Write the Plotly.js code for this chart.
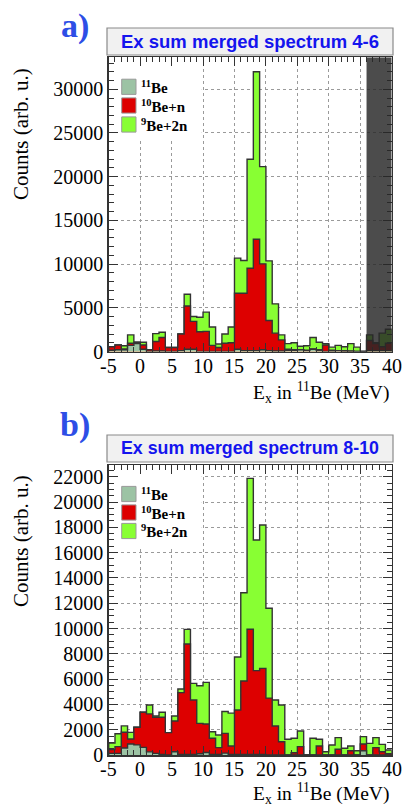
<!DOCTYPE html>
<html>
<head>
<meta charset="utf-8">
<script src="https://cdn.plot.ly/plotly-3.0.1.min.js"></script>
<style>html,body{margin:0;padding:0;background:#fff;}#chart{width:406px;height:807px;}</style>
</head>
<body>
<div id="chart"></div>
<script>
// ---- data ----
const binLeft = [-5,-4,-3,-2,-1,0,1,2,3,4,5,6,7,8,9,10,11,12,13,14,15,16,17,18,19,20,21,22,23,24,25,26,27,28,29,30,31,32,33,34,35,36,37,38,39];
const binRightEnd = 40;
const seriesNames = ['<sup>11</sup>Be', '<sup>10</sup>Be+n', '<sup>9</sup>Be+2n'];
const panelTitles = ['Ex sum merged spectrum 4-6', 'Ex sum merged spectrum 8-10'];
const panelLabels = ['a)', 'b)'];

const a_be11  = [150,200,200,700,900,250,0,50,50,0,0,100,250,250,0,0,0,0,0,0,250,100,100,100,200,100,50,50,150,150,200,100,250,100,0,50,100,0,0,0,0,100,100,100,100];
const a_be10n = [400,550,100,250,100,500,200,1100,1550,450,450,1900,4950,3200,2260,2300,700,450,950,1000,6420,6570,9430,12750,9830,3450,2050,1280,100,50,0,50,50,100,750,100,0,100,50,0,0,1150,800,450,850];
const a_be9nn = [0,0,350,950,100,300,0,900,600,0,0,0,1350,550,1660,2200,2100,400,1050,1800,4010,3740,12460,19160,11120,6820,3350,570,650,800,400,500,1300,850,150,350,600,450,850,500,0,650,100,1550,1600];

const b_be11  = [130,130,550,870,800,600,250,130,50,0,260,50,50,50,100,200,50,50,150,50,50,50,50,50,50,0,0,0,0,0,0,0,0,0,0,0,0,0,0,0,340,0,0,0,0];
const b_be10n = [300,530,1250,400,1390,2780,3000,2850,2930,1765,2430,4880,8720,4300,2400,2250,1270,530,1560,660,3510,5800,9890,6620,6800,4500,2290,1050,0,180,660,0,0,710,0,0,450,0,340,0,530,0,580,260,100];
const b_be9nn = [520,1020,500,520,0,0,700,100,400,0,390,290,1160,1310,2980,3290,520,1000,1730,2600,4190,6980,11930,10330,11330,7100,2060,2900,1240,1140,1240,0,1320,530,260,790,920,530,370,340,580,920,790,580,300];

const xTickVals = [-5,0,5,10,15,20,25,30,35,40];
const xTickText = ['-5','0','5','10','15','20','25','30','35','40'];
const aYTickVals = [0,5000,10000,15000,20000,25000,30000];
const aYTickText = ['0','5000','10000','15000','20000','25000','30000'];
const bYTickVals = [0,2000,4000,6000,8000,10000,12000,14000,16000,18000,20000,22000];
const bYTickText = ['0','2000','4000','6000','8000','10000','12000','14000','16000','18000','20000','22000'];
const cutRegion = [36, 40];

// ---- styling ----
const W = 406, H = 807;
const PX = v => v / W, PY = v => 1 - v / H;
const col11 = '#9cc3a4', colRed = '#dd0000', colGreen = '#88ff33', outline = '#333333';
const serif = 'Liberation Serif, Times New Roman, serif';
const sans = 'Liberation Sans, Arial, sans-serif';

function stepX() { return [binLeft[0]].concat(binLeft, [binRightEnd, binRightEnd]); }
function stepY(v) { return [0].concat(v, [v[v.length-1], 0]); }
function cum(...arrs) { return arrs[0].map((_, i) => arrs.reduce((s, a) => s + a[i], 0)); }

function layerTrace(vals, color, xa, ya) {
  return { type:'scatter', mode:'lines', x: stepX(), y: stepY(vals), line:{shape:'hv', color: outline, width:1.4},
           fill:'tozeroy', fillcolor: color, xaxis: xa, yaxis: ya, hoverinfo:'skip', showlegend:false };
}

const traces = [
  layerTrace(cum(a_be11, a_be10n, a_be9nn), colGreen, 'x', 'y'),
  layerTrace(cum(a_be11, a_be10n), colRed, 'x', 'y'),
  layerTrace(a_be11, col11, 'x', 'y'),
  layerTrace(cum(b_be11, b_be10n, b_be9nn), colGreen, 'x2', 'y2'),
  layerTrace(cum(b_be11, b_be10n), colRed, 'x2', 'y2'),
  layerTrace(b_be11, col11, 'x2', 'y2'),
];

const frameL = 108.7, frameR = 391.7;
const panels = [
  { top: 57.3, bottom: 351.5, ymax: 33660, yvals: aYTickVals, ytext: aYTickText, ymin: 1000, boxTop: 28, boxBot: 55, title: panelTitles[0], tsize: 18.5, labY: 26, legY: [86.8, 105.5, 124.5], legBoxY: 24200, xLabY: 366, xTitleY: 392, yTitleY: 134 },
  { top: 465, bottom: 755, ymax: 22925, yvals: bYTickVals, ytext: bYTickText, ymin: 500, boxTop: 435, boxBot: 462, title: panelTitles[1], tsize: 17.8, labY: 425, legY: [494, 512.5, 531], legBoxY: 16360, xLabY: 769, xTitleY: 793, yTitleY: 541 },
];

function xAxis(anchor) {
  return { domain:[PX(frameL), PX(frameR)], range:[-5, 40], anchor: anchor, tickmode:'array', tickvals: xTickVals, ticktext: xTickText,
    showticklabels:false,
    ticks:'inside', ticklen:9, tickwidth:1, tickcolor: outline, mirror:'allticks', showline:true, linecolor: outline, linewidth:1.5,
    showgrid:true, gridcolor:'#9a9a9a', griddash:'dot', gridwidth:1, zeroline:false,
    minor:{ticks:'inside', ticklen:5, tickcolor: outline, dtick:1, tick0:-5, showgrid:false}, fixedrange:true };
}
function yAxis(anchor, p) {
  return { domain:[PY(p.bottom), PY(p.top)], range:[0, p.ymax], anchor: anchor, tickmode:'array', tickvals: p.yvals, ticktext: p.ytext,
    ticks:'inside', ticklen:9, tickwidth:1, tickcolor: outline, mirror:'allticks', showline:true, linecolor: outline, linewidth:1.5,
    showgrid:true, gridcolor:'#9a9a9a', griddash:'dot', gridwidth:1, zeroline:false,
    tickfont:{family: serif, size:20, color:'#000'},
    minor:{ticks:'inside', ticklen:5, tickcolor: outline, dtick: p.ymin, tick0:0, showgrid:false}, fixedrange:true };
}

const shapes = [], annotations = [];
const legColors = [col11, colRed, colGreen];
panels.forEach((p, k) => {
  const xr = k === 0 ? 'x' : 'x2', yr = k === 0 ? 'y' : 'y2';
  // title box
  shapes.push({type:'rect', xref:'paper', yref:'paper', x0:PX(107), x1:PX(393), y0:PY(p.boxBot), y1:PY(p.boxTop), fillcolor:'#f1f1f1', line:{color:'#8a8a8a', width:1.2}});
  annotations.push({xref:'paper', yref:'paper', x:PX(250), y:PY((p.boxTop+p.boxBot)/2), xanchor:'center', yanchor:'middle', showarrow:false,
    text:'<b>'+p.title+'</b>', font:{family: sans, size:p.tsize, color:'#1414ee'}});
  // panel label
  annotations.push({xref:'paper', yref:'paper', x:PX(75), y:PY(p.labY), xanchor:'center', yanchor:'middle', showarrow:false,
    text:'<b>'+panelLabels[k]+'</b>', font:{family: serif, size:34, color:'#2d4ee6'}});
  // legend background
  shapes.push({type:'rect', xref:xr, yref:yr, x0:-5, x1:9.8, y0:p.legBoxY, y1:p.ymax, fillcolor:'#ffffff', line:{width:0}, layer:'between'});
  // legend entries
  p.legY.forEach((cy, j) => {
    shapes.push({type:'rect', xref:'paper', yref:'paper', x0:PX(121.7), x1:PX(136), y0:PY(cy+7.6), y1:PY(cy-7.6), fillcolor: legColors[j], line:{color:'#9a9a9a', width:1}});
    annotations.push({xref:'paper', yref:'paper', x:PX(139), y:PY(cy), xanchor:'left', yanchor:'middle', showarrow:false,
      text:'<b>'+seriesNames[j]+'</b>', font:{family: serif, size:15, color:'#000'}});
  });
  // x tick labels (placed on the axis scale)
  xTickVals.forEach((v, j) => {
    annotations.push({xref:xr, yref:'paper', x:v, y:PY(p.xLabY), xanchor:'center', yanchor:'middle', showarrow:false,
      text: xTickText[j], font:{family: serif, size:20, color:'#000'}});
  });
  // axis titles
  annotations.push({xref:'paper', yref:'paper', x:PX(391), y:PY(p.xTitleY), xanchor:'right', yanchor:'middle', showarrow:false,
    text:'E<sub>x</sub> in <sup>11</sup>Be (MeV)', font:{family: serif, size:19.5, color:'#000'}});
  annotations.push({xref:'paper', yref:'paper', x:PX(21), y:PY(p.yTitleY), xanchor:'center', yanchor:'middle', showarrow:false, textangle:-90,
    text:'Counts (arb. u.)', font:{family: serif, size:21, color:'#000'}});
});
// cut region overlay in panel a
shapes.push({type:'rect', xref:'x', yref:'y', x0:cutRegion[0], x1:cutRegion[1], y0:0, y1:panels[0].ymax, fillcolor:'rgba(40,40,40,0.83)', line:{width:0}, layer:'above'});

const layout = {
  width: W, height: H, autosize:false, margin:{l:0, r:0, t:0, b:0}, paper_bgcolor:'#fff', plot_bgcolor:'#fff', showlegend:false,
  xaxis: xAxis('y'), yaxis: yAxis('x', panels[0]),
  xaxis2: xAxis('y2'), yaxis2: yAxis('x2', panels[1]),
  shapes: shapes, annotations: annotations
};
Plotly.newPlot('chart', traces, layout, {staticPlot:true, displayModeBar:false});
</script>
</body>
</html>
